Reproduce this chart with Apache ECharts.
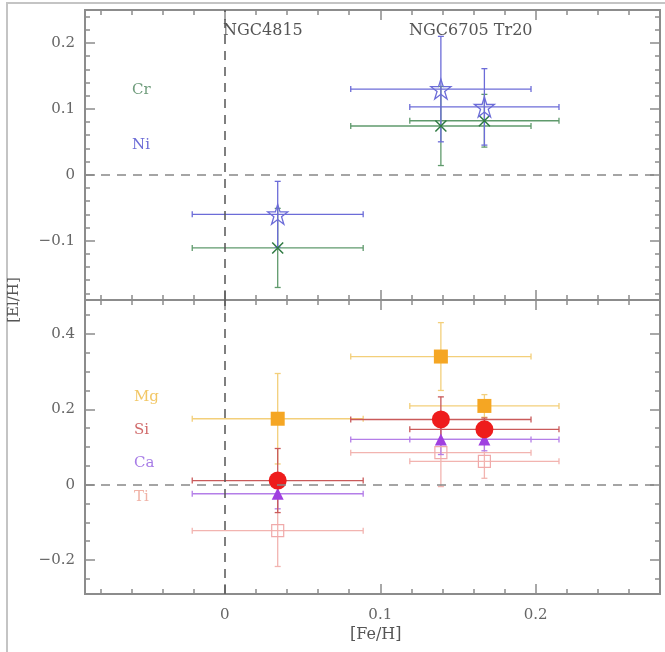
<!DOCTYPE html>
<html>
<head>
<meta charset="utf-8">
<script src="https://cdn.jsdelivr.net/npm/echarts@6/dist/echarts.min.js"></script>
<style>
  html, body { margin: 0; padding: 0; background: #fff; }
  #chart { width: 665px; height: 652px; }
</style>
</head>
<body>
<div id="chart"></div>
<script>
// clusters and their [Fe/H]
const clusters = ['NGC4815', 'NGC6705', 'Tr20'];
const feH = [0.034, 0.139, 0.167];
const feHErr = [0.055, 0.058, 0.048];

// top panel
const crVal = [-0.111, 0.074, 0.082];
const crErr = [0.06, 0.06, 0.04];
const niVal = [-0.06, 0.13, 0.103];
const niErr = [0.05, 0.08, 0.058];

// bottom panel
const mgVal = [0.175, 0.34, 0.209];
const mgErr = [0.12, 0.09, 0.03];
const siVal = [0.011, 0.173, 0.147];
const siErr = [0.085, 0.06, 0.03];
const caVal = [-0.024, 0.12, 0.12];
const caErr = [0.04, 0.04, 0.03];
const tiVal = [-0.122, 0.085, 0.062];
const tiErr = [0.095, 0.09, 0.045];

// ticks
const xMajor = [0, 0.1, 0.2];
const xMinor = [-0.08, -0.06, -0.04, -0.02, 0.02, 0.04, 0.06, 0.08, 0.12, 0.14, 0.16, 0.18, 0.22, 0.24, 0.26];
const yTopMajor = [-0.1, 0, 0.1, 0.2];
const yTopMinor = [-0.18, -0.16, -0.14, -0.12, -0.08, -0.06, -0.04, -0.02, 0.02, 0.04, 0.06, 0.08, 0.12, 0.14, 0.16, 0.18, 0.22, 0.24];
const yBotMajor = [-0.2, 0, 0.2, 0.4];
const yBotMinor = [-0.25, -0.15, -0.1, -0.05, 0.05, 0.1, 0.15, 0.25, 0.3, 0.35, 0.45];

const X_MIN = -0.09, X_MAX = 0.28;
const yRange = [[-0.19, 0.25], [-0.29, 0.49]];

const FONT = 'DejaVu Serif';
const frame = '#8c8c8c';

function xAxis (grid, pos, ticks, len, labels) {
  return {
    type: 'value', gridIndex: grid, position: pos, min: X_MIN, max: X_MAX,
    axisLine: { show: true, onZero: false, lineStyle: { color: frame, width: 2 } },
    axisTick: { show: true, inside: true, length: len, customValues: ticks, lineStyle: { color: frame, width: 1.5 } },
    axisLabel: labels ? { show: true, customValues: ticks, margin: 14, color: '#666', fontFamily: FONT, fontSize: 15 } : { show: false },
    splitLine: { show: false }
  };
}
function yAxis (grid, pos, ticks, len, labels) {
  return {
    type: 'value', gridIndex: grid, position: pos, min: yRange[grid][0], max: yRange[grid][1],
    axisLine: { show: true, onZero: false, lineStyle: { color: frame, width: 2 } },
    axisTick: { show: true, inside: true, length: len, customValues: ticks, lineStyle: { color: frame, width: 1.5 } },
    axisLabel: labels ? { show: true, customValues: ticks, margin: 10, color: '#666', fontFamily: FONT, fontSize: 15,
      formatter: v => (v < 0 ? '\u2212' : '') + Math.abs(v) } : { show: false },
    splitLine: { show: false }
  };
}

const xAxes = [], yAxes = [];
[0, 1].forEach(g => {
  xAxes.push(xAxis(g, 'bottom', xMajor, 10, g === 1));
  xAxes.push(xAxis(g, 'bottom', xMinor, 5, false));
  xAxes.push(xAxis(g, 'top', xMajor, 10, false));
  xAxes.push(xAxis(g, 'top', xMinor, 5, false));
  const maj = g === 0 ? yTopMajor : yBotMajor;
  const min = g === 0 ? yTopMinor : yBotMinor;
  yAxes.push(yAxis(g, 'left', maj, 10, true));
  yAxes.push(yAxis(g, 'left', min, 5, false));
  yAxes.push(yAxis(g, 'right', maj, 10, false));
  yAxes.push(yAxis(g, 'right', min, 5, false));
});

function errSeries (grid, vals, errs, color) {
  return {
    type: 'custom', xAxisIndex: grid * 4, yAxisIndex: grid * 4, z: 2,
    data: vals.map((v, i) => [feH[i], v, feHErr[i], errs[i]]),
    renderItem (params, api) {
      const x = api.value(0), y = api.value(1), xe = api.value(2), ye = api.value(3);
      const l = api.coord([x - xe, y]), r = api.coord([x + xe, y]);
      const t = api.coord([x, y + ye]), b = api.coord([x, y - ye]);
      const st = { stroke: color, lineWidth: 1.3 };
      const cap = 3;
      const line = (x1, y1, x2, y2) => ({ type: 'line', shape: { x1, y1, x2, y2 }, style: st });
      return {
        type: 'group',
        children: [
          line(l[0], l[1], r[0], r[1]),
          line(l[0], l[1] - cap, l[0], l[1] + cap),
          line(r[0], r[1] - cap, r[0], r[1] + cap),
          line(t[0], t[1], b[0], b[1]),
          line(t[0] - cap, t[1], t[0] + cap, t[1]),
          line(b[0] - cap, b[1], b[0] + cap, b[1])
        ]
      };
    }
  };
}

function markSeries (grid, vals, symbol, size, fill, stroke, bw) {
  return {
    type: 'scatter', xAxisIndex: grid * 4, yAxisIndex: grid * 4, z: 3,
    symbol, symbolSize: size,
    itemStyle: { color: fill, borderColor: stroke, borderWidth: bw, opacity: 1 },
    data: vals.map((v, i) => [feH[i], v])
  };
}

const STAR = 'path://M50,2 L61,37 L97,37 L68,59 L79,94 L50,72 L21,94 L32,59 L3,37 L39,37 Z';
const CROSS = 'path://M0,0 L10,10 M10,0 L0,10';

function zeroLines (grid) {
  return {
    type: 'scatter', xAxisIndex: grid * 4, yAxisIndex: grid * 4, data: [], z: 1,
    markLine: {
      silent: true, symbol: 'none', label: { show: false }, animation: false,
      data: [
        { xAxis: 0, lineStyle: { color: '#555', type: [9, 7], width: 1.5 } },
        { yAxis: 0, lineStyle: { color: '#888', type: [9, 7], width: 1.5 } }
      ]
    }
  };
}

function txt (x, y, text, color, size, extra) {
  return Object.assign({ type: 'text', x, y, style: { text, fill: color, fontFamily: FONT, fontSize: size || 15, verticalAlign: 'middle' } }, extra || {});
}

const chart = echarts.init(document.getElementById('chart'));
chart.setOption({
  animation: false,
  grid: [
    { left: 85, right: 5, top: 10, height: 290 },
    { left: 85, right: 5, top: 300, height: 294 }
  ],
  xAxis: xAxes,
  yAxis: yAxes,
  graphic: [
    { type: 'rect', shape: { x: 7, y: 3, width: 700, height: 700 }, style: { fill: 'none', stroke: '#c4c4c4', lineWidth: 2 }, z: -1 },
    txt(223, 31, clusters[0], '#555', 16),
    txt(409, 31, clusters[1] + ' ' + clusters[2], '#555', 16),
    txt(132, 90, 'Cr', '#6f9c7c'),
    txt(132, 145, 'Ni', '#6b6bd6'),
    txt(134, 397, 'Mg', '#f2c766'),
    txt(134, 430, 'Si', '#d06a6a'),
    txt(134, 463, 'Ca', '#a77ce6'),
    txt(134, 497, 'Ti', '#f0b2a6'),
    txt(350, 635, '[Fe/H]', '#555', 16),
    { type: 'text', x: 14, y: 300, rotation: Math.PI / 2,
      style: { text: '[El/H]', fill: '#555', fontFamily: FONT, fontSize: 15, align: 'center', verticalAlign: 'middle' } }
  ],
  series: [
    zeroLines(0),
    zeroLines(1),
    errSeries(0, crVal, crErr, '#5f9a6c'),
    errSeries(0, niVal, niErr, '#6c6cd8'),
    markSeries(0, crVal, CROSS, 11, 'none', '#2f7a42', 1.5),
    markSeries(0, niVal, STAR, 20, 'none', '#6c6cd8', 1.3),
    errSeries(1, tiVal, tiErr, '#f2b4b0'),
    errSeries(1, mgVal, mgErr, '#f3cf7a'),
    errSeries(1, caVal, caErr, '#b47ee8'),
    errSeries(1, siVal, siErr, '#c95a5a'),
    markSeries(1, tiVal, 'rect', 12, 'none', '#f0aaaa', 1.2),
    markSeries(1, mgVal, 'rect', 14, '#f5a623', '#f5a623', 0),
    markSeries(1, caVal, 'triangle', 12, '#a040e0', '#a040e0', 0),
    markSeries(1, siVal, 'circle', 18, '#ee1c1c', '#ee1c1c', 0)
  ]
});
</script>
</body>
</html>
